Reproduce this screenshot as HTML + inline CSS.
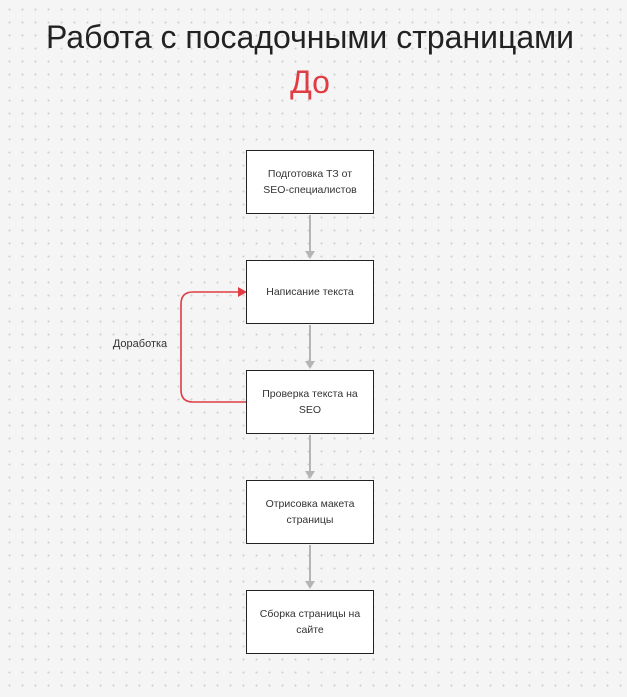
<!DOCTYPE html>
<html><head><meta charset="utf-8"><style>
body{margin:0;width:627px;height:697px;overflow:hidden;background-color:#f5f5f5;background-image:radial-gradient(circle,#cfcfcf 0.8px,transparent 1.2px);background-size:13px 13px;background-position:3px 3px;font-family:"Liberation Sans",sans-serif;position:relative}
.t{position:absolute;left:0;width:620px;text-align:center}
.b{position:absolute;left:246px;width:126px;height:62px;border:1.5px solid #222;background:#fff;display:flex;align-items:center;justify-content:center;text-align:center;font-size:10.5px;line-height:16px;color:#333}
</style></head><body>
<div class="t" style="top:19px;font-size:32px;color:#222;">Работа с посадочными страницами</div>
<div class="t" style="top:64px;font-size:32px;color:#e03c44;">До</div>
<svg width="627" height="697" style="position:absolute;left:0;top:0">
<g stroke="#b5b5b5" stroke-width="2" fill="#b5b5b5">
<line x1="310" y1="215" x2="310" y2="252"/><polygon points="305,251 315,251 310,259" stroke="none"/>
<line x1="310" y1="325" x2="310" y2="362"/><polygon points="305,361 315,361 310,369" stroke="none"/>
<line x1="310" y1="435" x2="310" y2="472"/><polygon points="305,471 315,471 310,479" stroke="none"/>
<line x1="310" y1="545" x2="310" y2="582"/><polygon points="305,581 315,581 310,589" stroke="none"/>
</g>
<path d="M246 402 H193 Q181 402 181 390 V304 Q181 292 193 292 H240" stroke="#e03c44" stroke-width="1.6" fill="none"/>
<polygon points="238,287 247,292 238,297" fill="#e03c44"/>
<text x="140" y="347" font-size="11" fill="#333" text-anchor="middle" font-family="Liberation Sans">Доработка</text>
</svg>
<div class="b" style="top:150px">Подготовка ТЗ от<br>SEO-специалистов</div>
<div class="b" style="top:260px">Написание текста</div>
<div class="b" style="top:370px">Проверка текста на<br>SEO</div>
<div class="b" style="top:480px">Отрисовка макета<br>страницы</div>
<div class="b" style="top:590px">Сборка страницы на<br>сайте</div>
</body></html>
